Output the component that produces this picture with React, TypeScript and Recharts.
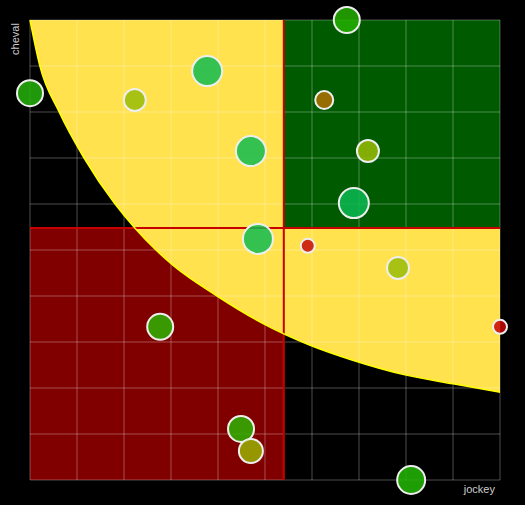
import {
  Area,
  CartesianGrid,
  Cell,
  ComposedChart,
  Line,
  ReferenceArea,
  ReferenceLine,
  Scatter,
  XAxis,
  YAxis,
  ZAxis,
} from "recharts";

// grid ticks on both axes
const ticks = [0, 1, 2, 3, 4, 5, 6, 7, 8, 9, 10];

// boundary curve
const curveX = [0, 0.21, 0.62, 1.15, 1.81, 2.23, 2.68, 3.04, 3.98, 4.98, 5.96, 6.85, 8.0, 9.0, 10];
const curveY = [10, 9, 8, 7, 6, 5.48, 5.0, 4.67, 4.0, 3.39, 2.93, 2.61, 2.28, 2.09, 1.91];

// horses
const jockey = [6.74, 0, 2.23, 3.77, 6.26, 4.7, 7.19, 6.89, 4.85, 5.91, 7.83, 10, 2.77, 4.49, 4.7, 8.11];
const cheval = [10, 8.41, 8.26, 8.89, 8.26, 7.15, 7.15, 6.02, 5.24, 5.09, 4.61, 3.33, 3.33, 1.11, 0.63, 0];
const poids = [169, 169, 121, 225, 81, 225, 121, 225, 225, 49, 121, 49, 169, 169, 144, 196];
const couleurs = [
  "#24b000", "#24b40a", "#98bc08", "#10bb50", "#b07100", "#10bb50", "#98bc05", "#0cb852",
  "#10bb50", "#c40a0a", "#98bc08", "#c80505", "#2eb400", "#2eb400", "#9ab000", "#24b806",
];

const splitX = 5.4;
const splitY = 5.48;

const curve = curveX.map((x, i) => ({ x, y: curveY[i], band: [curveY[i], 10] }));
const points = jockey.map((x, i) => ({ x, y: cheval[i], z: poids[i] }));

export default function App() {
  return (
    <div style={{ position: "fixed", left: 0, top: 0, width: 525, height: 505, background: "#000" }}>
      <ComposedChart
        width={525}
        height={505}
        data={curve}
        margin={{ top: 20, right: 25, bottom: 25, left: 30 }}
      >
        <XAxis type="number" dataKey="x" domain={[0, 10]} ticks={ticks} hide />
        <YAxis type="number" domain={[0, 10]} ticks={ticks} hide />
        <ZAxis type="number" dataKey="z" domain={[0, 225]} range={[0, 707]} />
        <ReferenceArea
          x1={0}
          x2={splitX}
          y1={0}
          y2={splitY}
          fill="#800000"
          fillOpacity={1}
          stroke="none"
          zIndex={10}
        />
        <Area
          dataKey="band"
          type="monotone"
          fill="#ffe24d"
          fillOpacity={1}
          stroke="none"
          isAnimationActive={false}
          zIndex={20}
        />
        <ReferenceArea
          x1={splitX}
          x2={10}
          y1={splitY}
          y2={10}
          fill="#005a00"
          fillOpacity={1}
          stroke="none"
          zIndex={30}
        />
        <CartesianGrid stroke="#ffffff" strokeOpacity={0.3} zIndex={40} />
        <ReferenceLine x={splitX} stroke="#c80000" strokeWidth={2} zIndex={50} />
        <ReferenceLine y={splitY} stroke="#c80000" strokeWidth={2} zIndex={50} />
        <Line
          dataKey="y"
          type="monotone"
          stroke="#ffff00"
          strokeWidth={1.5}
          dot={false}
          isAnimationActive={false}
          zIndex={60}
        />
        <Scatter
          data={points}
          dataKey="y"
          stroke="#eeeeee"
          strokeWidth={2}
          isAnimationActive={false}
          zIndex={70}
        >
          {points.map((p, i) => (
            <Cell key={i} fill={couleurs[i]} fillOpacity={0.85} />
          ))}
        </Scatter>
      </ComposedChart>
      <div
        style={{
          position: "absolute",
          left: 15,
          top: 39,
          transform: "translate(-50%, -50%) rotate(-90deg)",
          fontFamily: "Liberation Sans, Arial, sans-serif",
          fontSize: 11,
          color: "#cccccc",
          whiteSpace: "nowrap",
        }}
      >
        cheval
      </div>
      <div
        style={{
          position: "absolute",
          right: 30,
          top: 483,
          fontFamily: "Liberation Sans, Arial, sans-serif",
          fontSize: 11,
          color: "#cccccc",
          whiteSpace: "nowrap",
        }}
      >
        jockey
      </div>
    </div>
  );
}
